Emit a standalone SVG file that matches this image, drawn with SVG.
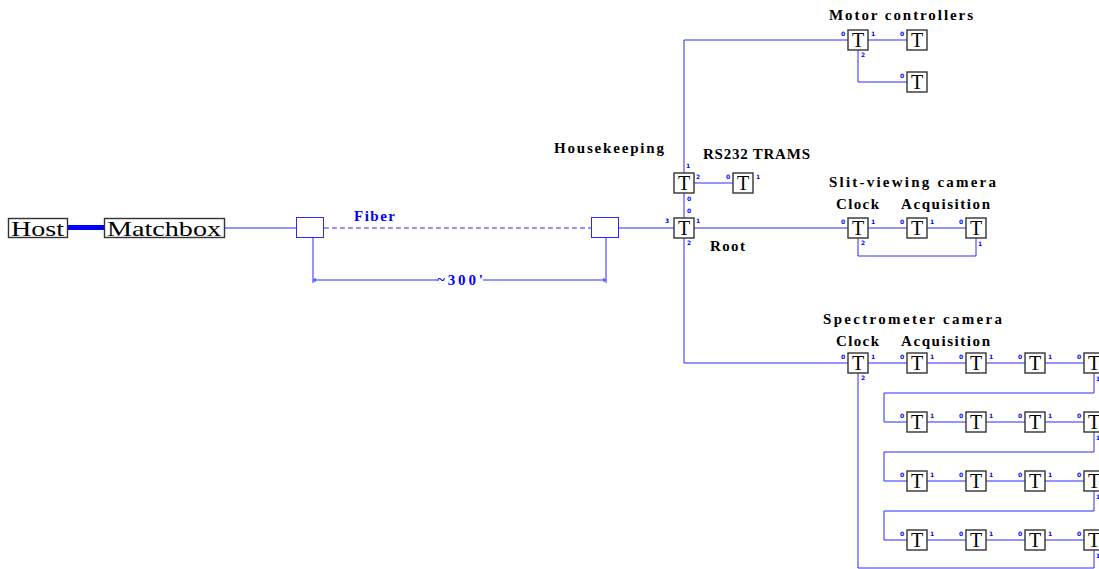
<svg xmlns="http://www.w3.org/2000/svg" width="1099" height="569" viewBox="0 0 1099 569">
<style>
.ln{stroke:#2a2aff;stroke-width:1;fill:none}
.bx{fill:#fff;stroke:#333;stroke-width:1.4}
.tt{font-family:"Liberation Serif",serif;font-size:20px;text-anchor:middle;fill:#000}
.pl{font-family:"DejaVu Sans",sans-serif;font-size:6px;font-weight:bold;fill:#00f;text-anchor:middle}
.lbl{font-family:"Liberation Serif",serif;font-weight:bold;font-size:15px;fill:#000}
.blu{font-family:"Liberation Serif",serif;font-weight:bold;font-size:15px;fill:#00f}
.big{font-family:"Liberation Serif",serif;font-size:22px;fill:#000}
.fb{fill:#fff;stroke:#2a2aff;stroke-width:1}
</style>
<rect width="1099" height="569" fill="#fff"/>

<g id="connectors">
<path d="M68 227.5H104" stroke="#0000ff" stroke-width="5" fill="none"/>
<path class="ln" d="M225 228H296"/>
<path class="ln" d="M324 228H591" stroke-dasharray="5,3"/>
<path class="ln" d="M618 228H674"/>
<path class="ln" d="M694 228H848"/>
<path class="ln" d="M684 173V40H848"/>
<path class="ln" d="M684 193V218"/>
<path class="ln" d="M684 238V363H848"/>
<path class="ln" d="M694 183H733"/>
<path class="ln" d="M868 40H907M858 50V82H907"/>
<path class="ln" d="M868 228H907M927 228H966M858 238V256H976V238"/>
<path class="ln" d="M868 363H907M927 363H966M986 363H1025M1045 363H1084"/>
<path class="ln" d="M1094 373V393H884V422H907M927 422H966M986 422H1025M1045 422H1084"/>
<path class="ln" d="M1094 432V452H884V481H907M927 481H966M986 481H1025M1045 481H1084"/>
<path class="ln" d="M1094 491V511H884V540H907M927 540H966M986 540H1025M1045 540H1084"/>
<path class="ln" d="M1094 550V568H858V373"/>
<path class="ln" d="M313 238V283M606 238V283M313 280H437M483 280H606M315 278V282M604 278V282"/>
</g>

<g id="host"><rect x="8.5" y="218.5" width="59" height="19" fill="#fff" stroke="#333" stroke-width="1.4"/><text class="big" x="11" y="236" textLength="53" lengthAdjust="spacingAndGlyphs">Host</text></g>
<g id="matchbox"><rect x="104.5" y="218.5" width="120" height="19" fill="#fff" stroke="#333" stroke-width="1.4"/><text class="big" x="107" y="236" textLength="114" lengthAdjust="spacingAndGlyphs">Matchbox</text></g>
<g id="fiber-end-1"><rect class="fb" x="296.5" y="217.5" width="27" height="20"/></g>
<g id="fiber-end-2"><rect class="fb" x="591.5" y="217.5" width="27" height="20"/></g>
<g id="fiber-label"><text class="blu" x="354" y="221" textLength="41">Fiber</text></g>
<g id="length-label"><text class="blu" x="437" y="285" textLength="46">~300'</text></g>

<g id="labels">
<text class="lbl" x="829" y="20" textLength="144">Motor  controllers</text>
<text class="lbl" x="554" y="153" textLength="110">Housekeeping</text>
<text class="lbl" x="703" y="159" textLength="107">RS232  TRAMS</text>
<text class="lbl" x="710" y="251" textLength="35">Root</text>
<text class="lbl" x="829" y="187" textLength="167">Slit-viewing  camera</text>
<text class="lbl" x="836" y="209" textLength="43">Clock</text>
<text class="lbl" x="901" y="209" textLength="89">Acquisition</text>
<text class="lbl" x="823" y="324" textLength="179">Spectrometer  camera</text>
<text class="lbl" x="836" y="346" textLength="43">Clock</text>
<text class="lbl" x="901" y="346" textLength="89">Acquisition</text>
</g>

<g id="t-housekeeping" transform="translate(684,183)"><rect class="bx" x="-10" y="-10" width="20" height="20"/><text class="tt" y="7">T</text><text class="pl" x="4" y="-15">1</text><text class="pl" x="14" y="-4">2</text><text class="pl" x="5" y="18">0</text></g>
<g id="t-rs232" transform="translate(743,183)"><rect class="bx" x="-10" y="-10" width="20" height="20"/><text class="tt" y="7">T</text><text class="pl" x="-15" y="-4">0</text><text class="pl" x="15" y="-4">1</text></g>
<g id="t-root" transform="translate(684,228)"><rect class="bx" x="-10" y="-10" width="20" height="20"/><text class="tt" y="7">T</text><text class="pl" x="5" y="-15">0</text><text class="pl" x="-17" y="-5">3</text><text class="pl" x="14" y="-5">1</text><text class="pl" x="5" y="17">2</text></g>

<g id="t-motor-1" transform="translate(858,40)"><rect class="bx" x="-10" y="-10" width="20" height="20"/><text class="tt" y="7">T</text><text class="pl" x="-15" y="-4">0</text><text class="pl" x="15" y="-4">1</text><text class="pl" x="5" y="17">2</text></g>
<g id="t-motor-2" transform="translate(917,40)"><rect class="bx" x="-10" y="-10" width="20" height="20"/><text class="tt" y="7">T</text><text class="pl" x="-15" y="-4">0</text></g>
<g id="t-motor-3" transform="translate(917,82)"><rect class="bx" x="-10" y="-10" width="20" height="20"/><text class="tt" y="7">T</text><text class="pl" x="-15" y="-4">0</text></g>

<g id="t-slit-clock" transform="translate(858,228)"><rect class="bx" x="-10" y="-10" width="20" height="20"/><text class="tt" y="7">T</text><text class="pl" x="-15" y="-4">0</text><text class="pl" x="15" y="-4">1</text><text class="pl" x="5" y="17">2</text></g>
<g id="t-slit-acq-1" transform="translate(917,228)"><rect class="bx" x="-10" y="-10" width="20" height="20"/><text class="tt" y="7">T</text><text class="pl" x="-15" y="-4">0</text><text class="pl" x="15" y="-4">1</text></g>
<g id="t-slit-acq-2" transform="translate(976,228)"><rect class="bx" x="-10" y="-10" width="20" height="20"/><text class="tt" y="7">T</text><text class="pl" x="-15" y="-4">0</text><text class="pl" x="4" y="18">1</text></g>

<g id="t-spec-clock" transform="translate(858,363)"><rect class="bx" x="-10" y="-10" width="20" height="20"/><text class="tt" y="7">T</text><text class="pl" x="-15" y="-4">0</text><text class="pl" x="15" y="-4">1</text><text class="pl" x="5" y="17">2</text></g>
<g id="t-spec-1-1" transform="translate(917,363)"><rect class="bx" x="-10" y="-10" width="20" height="20"/><text class="tt" y="7">T</text><text class="pl" x="-15" y="-4">0</text><text class="pl" x="15" y="-4">1</text></g>
<g id="t-spec-1-2" transform="translate(976,363)"><rect class="bx" x="-10" y="-10" width="20" height="20"/><text class="tt" y="7">T</text><text class="pl" x="-15" y="-4">0</text><text class="pl" x="15" y="-4">1</text></g>
<g id="t-spec-1-3" transform="translate(1035,363)"><rect class="bx" x="-10" y="-10" width="20" height="20"/><text class="tt" y="7">T</text><text class="pl" x="-15" y="-4">0</text><text class="pl" x="15" y="-4">1</text></g>
<g id="t-spec-1-4" transform="translate(1094,363)"><rect class="bx" x="-10" y="-10" width="20" height="20"/><text class="tt" y="7">T</text><text class="pl" x="-15" y="-4">0</text><text class="pl" x="4" y="18">1</text></g>

<g id="t-spec-2-1" transform="translate(917,422)"><rect class="bx" x="-10" y="-10" width="20" height="20"/><text class="tt" y="7">T</text><text class="pl" x="-15" y="-4">0</text><text class="pl" x="15" y="-4">1</text></g>
<g id="t-spec-2-2" transform="translate(976,422)"><rect class="bx" x="-10" y="-10" width="20" height="20"/><text class="tt" y="7">T</text><text class="pl" x="-15" y="-4">0</text><text class="pl" x="15" y="-4">1</text></g>
<g id="t-spec-2-3" transform="translate(1035,422)"><rect class="bx" x="-10" y="-10" width="20" height="20"/><text class="tt" y="7">T</text><text class="pl" x="-15" y="-4">0</text><text class="pl" x="15" y="-4">1</text></g>
<g id="t-spec-2-4" transform="translate(1094,422)"><rect class="bx" x="-10" y="-10" width="20" height="20"/><text class="tt" y="7">T</text><text class="pl" x="-15" y="-4">0</text><text class="pl" x="4" y="18">1</text></g>

<g id="t-spec-3-1" transform="translate(917,481)"><rect class="bx" x="-10" y="-10" width="20" height="20"/><text class="tt" y="7">T</text><text class="pl" x="-15" y="-4">0</text><text class="pl" x="15" y="-4">1</text></g>
<g id="t-spec-3-2" transform="translate(976,481)"><rect class="bx" x="-10" y="-10" width="20" height="20"/><text class="tt" y="7">T</text><text class="pl" x="-15" y="-4">0</text><text class="pl" x="15" y="-4">1</text></g>
<g id="t-spec-3-3" transform="translate(1035,481)"><rect class="bx" x="-10" y="-10" width="20" height="20"/><text class="tt" y="7">T</text><text class="pl" x="-15" y="-4">0</text><text class="pl" x="15" y="-4">1</text></g>
<g id="t-spec-3-4" transform="translate(1094,481)"><rect class="bx" x="-10" y="-10" width="20" height="20"/><text class="tt" y="7">T</text><text class="pl" x="-15" y="-4">0</text><text class="pl" x="4" y="18">1</text></g>

<g id="t-spec-4-1" transform="translate(917,540)"><rect class="bx" x="-10" y="-10" width="20" height="20"/><text class="tt" y="7">T</text><text class="pl" x="-15" y="-4">0</text><text class="pl" x="15" y="-4">1</text></g>
<g id="t-spec-4-2" transform="translate(976,540)"><rect class="bx" x="-10" y="-10" width="20" height="20"/><text class="tt" y="7">T</text><text class="pl" x="-15" y="-4">0</text><text class="pl" x="15" y="-4">1</text></g>
<g id="t-spec-4-3" transform="translate(1035,540)"><rect class="bx" x="-10" y="-10" width="20" height="20"/><text class="tt" y="7">T</text><text class="pl" x="-15" y="-4">0</text><text class="pl" x="15" y="-4">1</text></g>
<g id="t-spec-4-4" transform="translate(1094,540)"><rect class="bx" x="-10" y="-10" width="20" height="20"/><text class="tt" y="7">T</text><text class="pl" x="-15" y="-4">0</text><text class="pl" x="4" y="18">1</text></g>
</svg>
